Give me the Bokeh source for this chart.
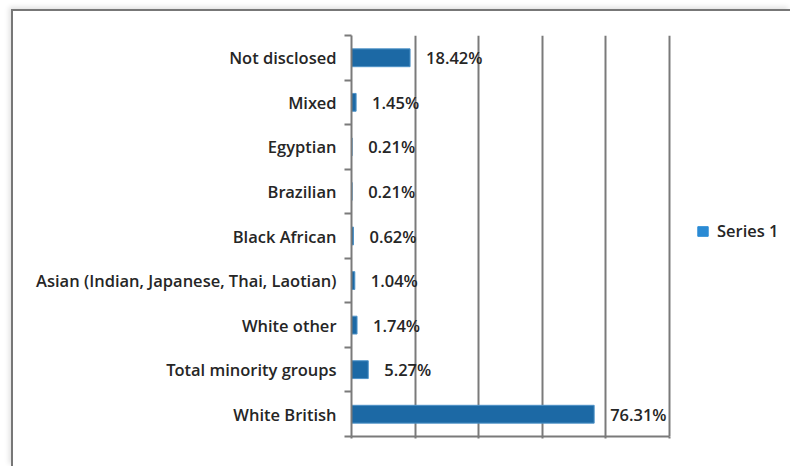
from bokeh.plotting import figure
from bokeh.models import (ColumnDataSource, FixedTicker, Range1d, Legend, LegendItem,
                          LabelSet)
from bokeh.layouts import column
from bokeh.core.properties import value
from bokeh.embed import file_html
from bokeh.resources import INLINE

categories = ["White British", "Total minority groups", "White other",
              "Asian (Indian, Japanese, Thai, Laotian)", "Black African",
              "Brazilian", "Egyptian", "Mixed", "Not disclosed"]
values = [76.31, 5.27, 1.74, 1.04, 0.62, 0.21, 0.21, 1.45, 18.42]
x_ticks = [0, 20, 40, 60, 80, 100]
series_name = "Series 1"

pos = [i + 0.5 for i in range(len(categories))]
src = ColumnDataSource(dict(
    y=pos, v=values, lab=["%.2f%%" % v for v in values]))

FONT = "Open Sans SemiBold"
FS = "16.5px"
TXT = "#262626"
GRID = "#7a7a7a"

# frame spans to the right edge so the legend can sit inside it;
# axis max (100) lands at 318 px of a 439 px wide frame
x_end = x_ticks[-1] * 439.0 / 318.0

p = figure(width=777, height=455, output_backend="svg", toolbar_location=None,
           x_range=Range1d(0, x_end), y_range=Range1d(0, len(categories)),
           min_border_left=338, min_border_right=0, min_border_top=24,
           min_border_bottom=30)
p.outline_line_color = None
p.background_fill_color = "white"
p.border_fill_color = "white"

bars = p.hbar(y="y", right="v", left=0, height=0.4, source=src,
              fill_color="#1c69a5", line_color="#4f93c8", line_width=1)

labels = LabelSet(x="v", y="y", text="lab", source=src, x_offset=16,
                  text_baseline="middle", text_font=value(FONT), text_font_size=value(FS),
                  text_color=TXT)
p.add_layout(labels)

# y axis: labels at centres, ticks at category boundaries
yax = p.yaxis[0]
yax.ticker = FixedTicker(ticks=pos, minor_ticks=list(range(len(categories) + 1)))
yax.major_label_overrides = {pp: c for pp, c in zip(pos, categories)}
yax.major_tick_out = 0
yax.major_tick_in = 0
yax.minor_tick_out = 7
yax.minor_tick_in = 0
yax.minor_tick_line_color = GRID
yax.minor_tick_line_width = 2
yax.axis_line_color = GRID
yax.axis_line_width = 2
yax.major_label_text_font = FONT
yax.major_label_text_font_size = FS
yax.major_label_text_color = TXT
yax.major_label_standoff = 8

xax = p.xaxis[0]
xax.ticker = FixedTicker(ticks=x_ticks)
xax.bounds = (x_ticks[0], x_ticks[-1])
xax.major_label_overrides = {t: "" for t in x_ticks}
xax.major_tick_out = 2
xax.major_tick_in = 0
xax.major_tick_line_color = GRID
xax.major_tick_line_width = 2
xax.minor_tick_line_color = None
xax.axis_line_color = GRID
xax.axis_line_width = 2

p.ygrid.grid_line_color = None
p.xgrid.ticker = FixedTicker(ticks=x_ticks)
p.xgrid.grid_line_color = GRID
p.xgrid.grid_line_width = 2

leg_r = p.hbar(y=[float("nan")], right=[float("nan")], left=0, height=0.4,
               fill_color="#2a8ad4", line_color="#2a8ad4")
legend = Legend(items=[LegendItem(label=series_name, renderers=[leg_r])],
                location=(345, 194), border_line_color=None,
                background_fill_alpha=0, label_text_font=FONT,
                label_text_font_size=FS,
                label_text_color=TXT, glyph_width=13, glyph_height=12,
                label_standoff=8, padding=0, margin=0)
p.add_layout(legend)

inner = column(p, styles={"border-top": "2px solid #777777",
                          "border-left": "2px solid #777777",
                          "box-shadow": "-2px -2px 5px rgba(0,0,0,0.12)"})
layout = column(inner, styles={"padding-top": "9px", "padding-left": "11px",
                               "background-color": "white"})

open("out.html", "w").write(file_html(layout, INLINE))
